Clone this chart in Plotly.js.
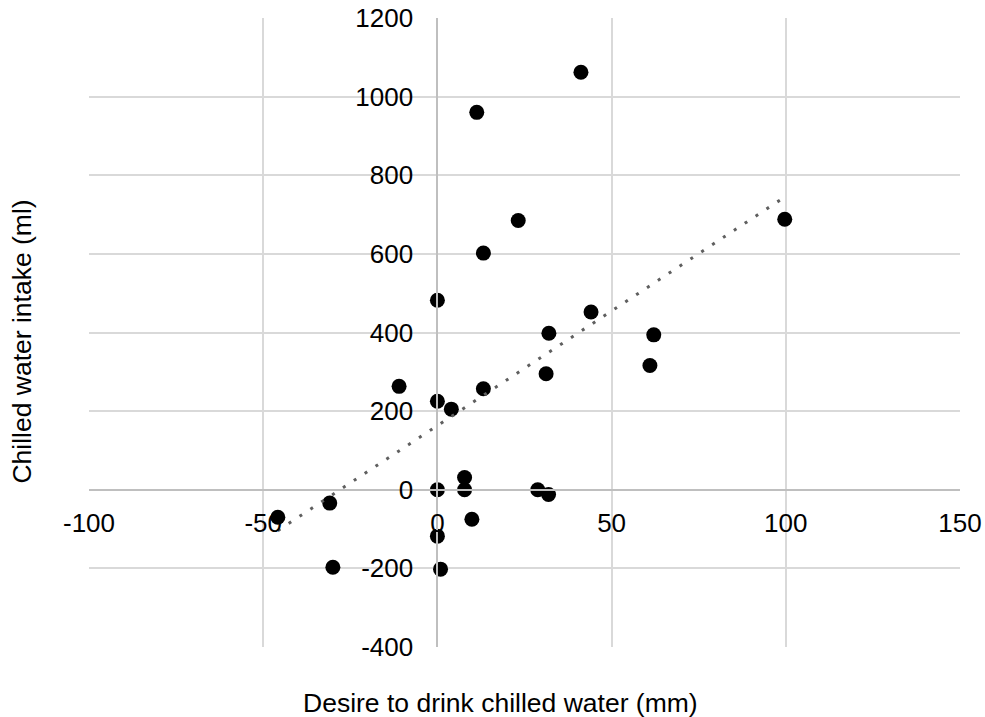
<!DOCTYPE html>
<html>
<head>
<meta charset="utf-8">
<script src="https://cdn.plot.ly/plotly-3.0.1.min.js"></script>
<style>html,body{margin:0;padding:0;background:#fff;}#chart{width:985px;height:717px;}</style>
</head>
<body>
<div id="chart"></div>
<script>
// Desire to drink chilled water (mm)
const desire = [41.2, 11.3, 23.2, 13.2, 0, 99.7, 44.1, 32.0, 62.1, 61.0, 31.2, -11.0, 13.2,
                0, 4.0, 7.8, 0, 7.8, 28.8, 31.9, 9.9, -30.9, -45.8, -30.0, 0, 0.9];
// Chilled water intake (ml)
const intake = [1062, 960, 685, 602, 482, 688, 452, 398, 394, 316, 295, 263, 257,
                225, 205, 31, 0, 0, 0, -12, -75, -34, -70, -197, -118, -202];
const xTickVals = [-100, -50, 0, 50, 100, 150];
const yTickVals = [-400, -200, 0, 200, 400, 600, 800, 1000, 1200];
const xTitle = 'Desire to drink chilled water (mm)';
const yTitle = 'Chilled water intake (ml)';

// Linear least-squares trendline computed from the data
const n = desire.length;
const mx = desire.reduce((a, b) => a + b, 0) / n;
const my = intake.reduce((a, b) => a + b, 0) / n;
let sxy = 0, sxx = 0;
for (let i = 0; i < n; i++) { sxy += (desire[i] - mx) * (intake[i] - my); sxx += (desire[i] - mx) ** 2; }
const slope = sxy / sxx, icpt = my - slope * mx;
const xmin = Math.min(...desire), xmax = Math.max(...desire);
const trendX = [xmin, xmax];
const trendY = trendX.map(v => icpt + slope * v);

const FONT = '"Liberation Sans", Arial, sans-serif';
const pts = {
  x: desire, y: intake, type: 'scatter', mode: 'markers',
  marker: {color: '#000000', size: 15, line: {width: 0}},
  hoverinfo: 'x+y'
};
const trend = {
  x: trendX, y: trendY, type: 'scatter', mode: 'lines',
  line: {color: '#5f5f5f', width: 3, dash: '3px,10px'},
  hoverinfo: 'skip'
};
const axisCommon = {
  showgrid: true, gridcolor: '#d9d9d9', gridwidth: 2,
  zeroline: false, showline: true, linecolor: '#bfbfbf', linewidth: 2,
  ticks: '', tickfont: {family: FONT, size: 26, color: '#000'},
  tickmode: 'array', fixedrange: true
};
const layout = {
  width: 985, height: 717,
  margin: {l: 89, r: 25, t: 18, b: 70},
  paper_bgcolor: '#ffffff', plot_bgcolor: '#ffffff',
  showlegend: false,
  font: {family: FONT, color: '#000'},
  xaxis: Object.assign({}, axisCommon, {
    range: [-100, 150], tickvals: xTickVals, ticktext: xTickVals.map(String),
    anchor: 'free', position: 0.25, ticklabelstandoff: 10
  }),
  yaxis: Object.assign({}, axisCommon, {
    range: [-400, 1200], tickvals: yTickVals, ticktext: yTickVals.map(String),
    anchor: 'free', position: 0.4, ticklabelstandoff: 18
  }),
  annotations: [
    {text: xTitle, xref: 'paper', yref: 'paper', x: 0.472, y: -0.0896,
     xanchor: 'center', yanchor: 'middle', showarrow: false,
     font: {family: FONT, size: 26.5, color: '#000'}},
    {text: yTitle, xref: 'paper', yref: 'paper', x: -0.0769, y: 0.4856,
     xanchor: 'center', yanchor: 'middle', showarrow: false, textangle: -90,
     font: {family: FONT, size: 26.5, color: '#000'}}
  ]
};
Plotly.newPlot('chart', [pts, trend], layout, {displayModeBar: false, staticPlot: true});
</script>
</body>
</html>
